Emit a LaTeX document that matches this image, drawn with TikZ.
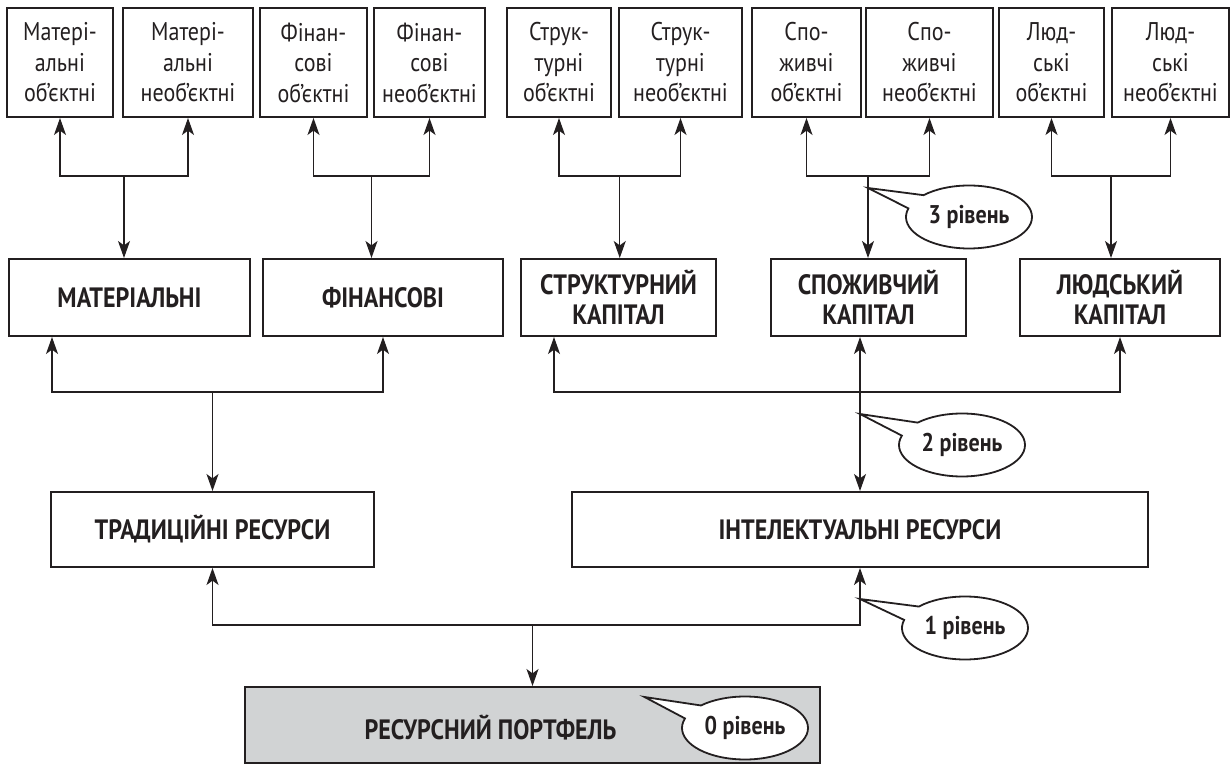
\documentclass[tikz,border=0pt]{standalone}
\usepackage{fontspec}
\setmainfont{PT Sans}[FakeStretch=0.86]
\usetikzlibrary{arrows.meta,calc,shapes.callouts}
\definecolor{ink}{HTML}{231F20}
\definecolor{pfgray}{HTML}{D1D3D4}

\begin{document}
\begin{tikzpicture}[x=0.5pt,y=-0.5pt,color=ink,line width=0.6pt,
    >={Stealth[length=8.5pt,width=6pt,inset=2.2pt]}]
        \tikzstyle{topbox} = [draw, line width=1pt, minimum height=54.5pt, inner sep=0pt,
            align=center, font=\fontsize{12.8}{15.25}\selectfont]
        \tikzstyle{midbox} = [draw, line width=1pt, minimum height=38.5pt, inner sep=0pt,
            align=center, font=\fontsize{14}{15}\selectfont\bfseries]
        \tikzstyle{lowbox} = [midbox, minimum height=37.5pt]
        \tikzstyle{levelcall} = [ellipse callout, draw, fill=white, line width=0.9pt,
            callout pointer arc=28, minimum width=63pt, minimum height=31.5pt, inner sep=0pt,
            font=\fontsize{12.8}{14}\selectfont\bfseries]
        \useasboundingbox (0,0) rectangle (1230,764);

            % 3 level: objects
            \foreach \n/\cx/\w/\txt in {
                    1/60/53pt/{Матері-\\альні\\об’єктні},
                    2/188/65pt/{Матері-\\альні\\необ’єктні},
                    3/313.5/53.5pt/{Фінан-\\сові\\об’єктні},
                    4/429.5/55.5pt/{Фінан-\\сові\\необ’єктні},
                    5/559/52pt/{Струк-\\турні\\об’єктні},
                    6/680.5/61.5pt/{Струк-\\турні\\необ’єктні},
                    7/806.5/54.5pt/{Спо-\\живчі\\об’єктні},
                    8/929.5/63.5pt/{Спо-\\живчі\\необ’єктні},
                    9/1051.5/52.5pt/{Люд-\\ські\\об’єктні},
                    10/1170.5/58.5pt/{Люд-\\ські\\необ’єктні}}{
                \node[topbox, minimum width=\w] (t\n) at (\cx,62.5) {\txt};
            }
            \foreach \a/\b/\k in {1/2/1, 3/4/2, 5/6/3, 7/8/4, 9/10/5}{
                \coordinate (k\k) at ($(t\a.south)!0.5!(t\b.south)+(0,58)$);
                \draw[<->] (t\a.south) |- (k\k) -| (t\b.south);
            }

            % 2 level: capitals
            \node[midbox, minimum width=120.5pt] (mat) at (129.5,297.5) {МАТЕРІАЛЬНІ};
            \node[midbox, minimum width=120pt] (fin) at (383,297.5) {ФІНАНСОВІ};
            \node[midbox, minimum width=97.5pt] (str) at (618.5,297.5) {СТРУКТУРНИЙ\\КАПІТАЛ};
            \node[midbox, minimum width=97.5pt] (spo) at (868.5,297.5) {СПОЖИВЧИЙ\\КАПІТАЛ};
            \node[midbox, minimum width=100pt] (lud) at (1120,297.5) {ЛЮДСЬКИЙ\\КАПІТАЛ};
            \foreach \k/\m in {1/mat, 2/fin, 3/str, 4/spo, 5/lud}
                \draw[->] (k\k) -- (k\k |- \m.north);

            % 1 level: resources
            \node[lowbox, minimum width=161.5pt] (trad) at (212.5,529.5) {ТРАДИЦІЙНІ РЕСУРСИ};
            \node[lowbox, minimum width=288pt] (int) at (860,529.5) {ІНТЕЛЕКТУАЛЬНІ РЕСУРСИ};
            \coordinate (j1) at (trad.north |- 0,392);
            \coordinate (j2) at (int.north |- 0,392);
            \draw[<->] ([xshift=22pt]mat.south west) |- (j1) -| (fin.south);
            \draw[->] (j1) -- (trad.north);
            \draw[<->] ([xshift=17pt]str.south west) |- (j2) -| (lud.south);
            \draw[<->] (spo.south -| int.north) -- (int.north);

            % 0 level: portfolio
            \node[lowbox, fill=pfgray, minimum width=287.5pt, minimum height=38pt] (pf) at (532.5,725) {};
            \node[font=\fontsize{14}{15}\selectfont\bfseries] (pftitle)
                at ([xshift=-21pt,yshift=-1.5pt]pf.center) {РЕСУРСНИЙ ПОРТФЕЛЬ};
            \coordinate (j3) at (pf.north |- 0,625);
            \draw[<->] (trad.south) |- (j3) -| (int.south);
            \draw[->] (j3) -- (pf.north);

            % level callouts
            \node[levelcall, callout absolute pointer={($(k4)+(0,12)$)}] (lvl3) at (969,217) {3 рівень};
            \node[levelcall, callout absolute pointer={($(j2)+(0,22)$)}] (lvl2) at (962,445) {2 рівень};
            \node[levelcall, callout absolute pointer={($(int.south)+(0,31)$)}] (lvl1) at (965,628) {1 рівень};
            \node[levelcall, callout absolute pointer={($(pf.north)+(112,11)$)}] (lvl0) at (745,728) {0 рівень};
\end{tikzpicture}
\end{document}
